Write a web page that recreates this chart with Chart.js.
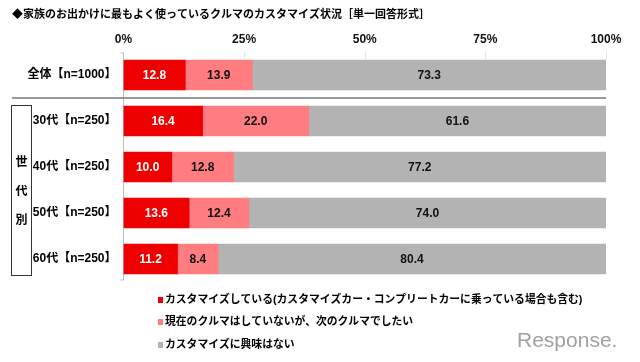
<!DOCTYPE html>
<html>
<head>
<meta charset="utf-8">
<script src="https://cdn.jsdelivr.net/npm/chart.js@4/dist/chart.umd.min.js"></script>
<style>
html,body{margin:0;padding:0;background:#fff;}
canvas{display:block;}
</style>
</head>
<body>
<canvas id="c" width="640" height="362"></canvas>
<script>
const titleText = '◆家族のお出かけに最もよく使っているクルマのカスタマイズ状況［単一回答形式］';
const categories = ['全体【n=1000】', '30代【n=250】', '40代【n=250】', '50代【n=250】', '60代【n=250】'];
const seriesNames = [
  'カスタマイズしている(カスタマイズカー・コンプリートカーに乗っている場合も含む)',
  '現在のクルマはしていないが、次のクルマでしたい',
  'カスタマイズに興味はない'
];
const customizing = [12.8, 16.4, 10.0, 13.6, 11.2];
const wantNext = [13.9, 22.0, 12.8, 12.4, 8.4];
const notInterested = [73.3, 61.6, 77.2, 74.0, 80.4];
const xTicks = [0, 25, 50, 75, 100];
const groupLabel = '世代別';
const watermark = 'Response.';

const colors = ['#ee0000', '#ff7c80', '#b3b3b3'];
const labelColors = ['#ffffff', '#111111', '#111111'];
const FONT = "'Liberation Sans','Noto Sans CJK JP',sans-serif";

const decor = {
  id: 'decor',
  beforeDatasetsDraw(chart) {
    const ctx = chart.ctx;
    const xs = chart.scales.x;
    const a = chart.chartArea;
    ctx.save();
    ctx.strokeStyle = '#e4e4e4';
    ctx.lineWidth = 1;
    xTicks.slice(1).forEach(v => {
      const x = Math.round(xs.getPixelForValue(v)) + 0.5;
      ctx.beginPath(); ctx.moveTo(x, a.top); ctx.lineTo(x, a.top + 7); ctx.stroke();
    });
    const x0 = Math.round(xs.getPixelForValue(0)) - 0.5;
    ctx.strokeStyle = '#bfbfbf';
    ctx.beginPath(); ctx.moveTo(x0, a.top + 1); ctx.lineTo(x0, a.bottom - 2); ctx.stroke();
    ctx.beginPath(); ctx.moveTo(x0 - 3, a.top + 1); ctx.lineTo(x0, a.top + 1); ctx.stroke();
    ctx.beginPath(); ctx.moveTo(x0 - 3, a.bottom - 2); ctx.lineTo(x0, a.bottom - 2); ctx.stroke();
    ctx.restore();
  },
  afterDraw(chart) {
    const ctx = chart.ctx;
    const xs = chart.scales.x, ys = chart.scales.y;
    ctx.save();
    ctx.fillStyle = '#000';
    ctx.font = 'bold 11px ' + FONT;
    ctx.textAlign = 'left';
    ctx.textBaseline = 'middle';
    ctx.fillText(titleText, 12, 15);
    const ySep = (ys.getPixelForValue(0) + ys.getPixelForValue(1)) / 2;
    ctx.strokeStyle = '#777';
    ctx.lineWidth = 1.5;
    ctx.beginPath(); ctx.moveTo(12, ySep); ctx.lineTo(xs.getPixelForValue(100), ySep); ctx.stroke();
    const boxTop = ys.getPixelForValue(1) - 16;
    const boxBot = ys.getPixelForValue(4) + 16;
    ctx.strokeStyle = '#333';
    ctx.lineWidth = 1;
    ctx.strokeRect(11.5, boxTop + 0.5, 20, boxBot - boxTop);
    ctx.fillStyle = '#000';
    ctx.font = 'bold 12px ' + FONT;
    ctx.textAlign = 'center';
    const chars = Array.from(groupLabel);
    const mid = (boxTop + boxBot) / 2;
    chars.forEach((ch, i) => {
      ctx.fillText(ch, 21.5, mid + (i - (chars.length - 1) / 2) * 29 + 2);
    });
    ctx.font = 'bold 10.8px ' + FONT;
    ctx.textAlign = 'left';
    const legY = [300, 322, 345];
    seriesNames.forEach((name, i) => {
      ctx.fillStyle = colors[i];
      ctx.fillRect(158, legY[i] - 3, 5, 6);
      ctx.fillStyle = '#000';
      ctx.fillText(name, 165, legY[i]);
    });
    ctx.fillStyle = '#a0a0a0';
    ctx.font = '21px ' + FONT;
    ctx.textAlign = 'left';
    ctx.fillText(watermark, 517, 341);
    ctx.restore();
  },
  afterDatasetsDraw(chart) {
    const ctx = chart.ctx;
    ctx.save();
    ctx.font = 'bold 12px ' + FONT;
    ctx.textAlign = 'center';
    ctx.textBaseline = 'middle';
    chart.data.datasets.forEach((ds, di) => {
      const meta = chart.getDatasetMeta(di);
      meta.data.forEach((el, i) => {
        const v = ds.data[i];
        ctx.fillStyle = labelColors[di];
        ctx.fillText(v.toFixed(1), (el.x + el.base) / 2, el.y + 1);
      });
    });
    ctx.restore();
  }
};

new Chart(document.getElementById('c'), {
  type: 'bar',
  data: {
    labels: categories,
    datasets: [
      { label: seriesNames[0], data: customizing, backgroundColor: colors[0] },
      { label: seriesNames[1], data: wantNext, backgroundColor: colors[1] },
      { label: seriesNames[2], data: notInterested, backgroundColor: colors[2] }
    ]
  },
  options: {
    indexAxis: 'y',
    responsive: false,
    animation: false,
    devicePixelRatio: 1,
    layout: { padding: { left: 0, right: 34, top: 0, bottom: 80 } },
    datasets: { bar: { barThickness: 30, borderWidth: 0 } },
    plugins: { legend: { display: false }, tooltip: { enabled: false }, title: { display: false } },
    scales: {
      x: {
        position: 'top',
        stacked: true,
        min: 0, max: 100,
        afterBuildTicks(s) { s.ticks = xTicks.map(v => ({ value: v })); },
        afterFit(s) { s.height = 52; },
        grid: { display: false, drawTicks: false },
        border: { display: false },
        ticks: {
          padding: 5,
          color: '#111',
          font: { family: FONT, size: 12, weight: 'bold' },
          callback: v => v + '%'
        }
      },
      y: {
        stacked: true,
        afterFit(s) { s.width = 123.5; },
        grid: { display: false, drawTicks: false },
        border: { display: false },
        ticks: {
          padding: 7,
          color: '#000',
          font: { family: FONT, size: 12, weight: 'bold' }
        }
      }
    }
  },
  plugins: [decor]
});
</script>
</body>
</html>
